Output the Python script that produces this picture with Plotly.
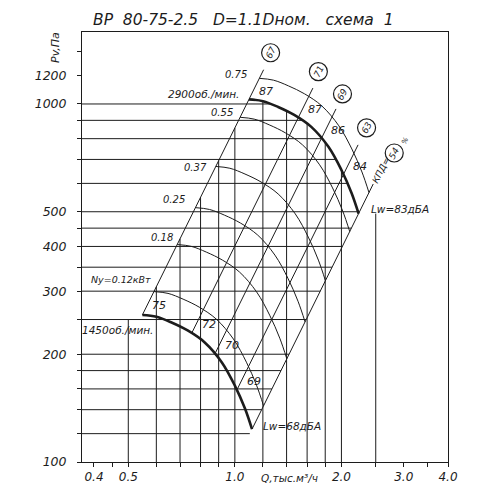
import numpy as np
import plotly.graph_objects as go

# ---------------- data ----------------
# fan characteristic at 2900 rpm (Q, thousand m3/h ; Pv, Pa)
Q_2900 = [1.096, 1.201, 1.325, 1.471, 1.644, 1.838, 2.0, 2.136, 2.236]
P_2900 = [1030, 1018, 981, 932, 863, 759, 654, 564, 494]

speed_labels = ["2900об./мин.", "1450об./мин."]
speed_ratio = [1.0, 0.5]

# thin characteristics for installed motor power Ny
power_labels = ["0.75", "0.55", "0.37", "0.25", "0.18", "Ny=0.12кВт"]
power_ratio = [1.07, 0.944, 0.806, 0.706, 0.627, 0.539]

# efficiency rays (P ~ Q^2) crossing the 2900 rpm curve at these Q
eta_labels = ["67", "71", "69", "63", "54"]
eta_Q_on_2900 = [1.096, 1.51, 1.755, 2.026, 2.236]
eta_ratio_top = 1.10
eta_ratio_bottom = 0.5

noise_2900 = ["87", "87", "86", "84"]
noise_1450 = ["75", "72", "70", "69"]
noise_end = ["Lw=83дБА", "Lw=68дБА"]

grid_Q = [0.5, 0.6, 0.7, 0.8, 0.9, 1.0, 1.2, 1.4, 1.6, 1.8, 2.0, 2.5]
grid_P = [1000, 900, 800, 700, 600, 500, 450, 400, 350, 300, 250, 200, 180, 160, 140, 120]

x_ticks = [0.4, 0.45, 0.5, 0.6, 0.7, 0.8, 0.9, 1.0, 1.2, 1.4, 1.6, 1.8, 2.0, 2.5, 3.0, 3.5, 4.0]
x_tick_text = ["0.4", "", "0.5", "", "", "", "", "1.0", "", "", "", "", "2.0", "", "3.0", "", "4.0"]
y_ticks = [100, 120, 140, 160, 180, 200, 250, 300, 350, 400, 450, 500, 600, 700, 800, 900, 1000, 1200, 1400]
y_tick_text = ["100", "", "", "", "", "200", "", "300", "", "400", "", "500", "", "", "", "", "1000", "1200", ""]

title_text = "ВР  80-75-2.5   D=1.1Dном.   схема  1"
x_title = "Q,тыс.м³/ч"
y_title = "Pv,Па"

# ---------------- helpers ----------------
X_RANGE = [np.log10(0.37), np.log10(4.0)]
Y_RANGE = [2.0, 3.201]
PX_X = 366 / (X_RANGE[1] - X_RANGE[0])
PX_Y = 430 / (Y_RANGE[1] - Y_RANGE[0])

Qb = np.array(Q_2900, float)
Pb = np.array(P_2900, float)
lq, lp = np.log10(Qb), np.log10(Pb)
K_first = Pb[0] / Qb[0] ** 2
K_last = Pb[-1] / Qb[-1] ** 2


def P_on_curve(q):
    return 10 ** np.interp(np.log10(q), lq, lp)


def Q_on_curve(p):
    return 10 ** np.interp(np.log10(p), lp[::-1], lq[::-1])


def top_of_vertical(q):
    if q < Qb[0] * 0.5:
        return max(p for p in grid_P if p <= Pb[0] * 0.25)
    if q <= Qb[0]:
        return K_first * q * q
    if q <= Qb[-1]:
        return P_on_curve(q)
    return Pb[-1]


def end_of_horizontal(p):
    if p >= Pb[-1]:
        return Q_on_curve(p)
    return np.sqrt(p / K_last)


def shift(q, p, dx, dy):
    """move a data point by a pixel offset (dx right, dy down)"""
    return q * 10 ** (dx / PX_X), p * 10 ** (-dy / PX_Y)


INK = "#1c1c1c"
FONT = "DejaVu Sans"
fig = go.Figure()


def add_line(xs, ys, width=1.0, shape="linear"):
    fig.add_trace(go.Scatter(x=list(xs), y=list(ys), mode="lines",
                             line=dict(color=INK, width=width, shape=shape),
                             hoverinfo="skip", showlegend=False))


# grid
for q in grid_Q:
    add_line([q, q], [100, top_of_vertical(q)], 1.0)
for p in grid_P:
    add_line([10 ** X_RANGE[0], end_of_horizontal(p)], [p, p], 1.0)

# thin power characteristics
for r in power_ratio:
    add_line(Qb * r, Pb * r * r, 1.0, "spline")

# efficiency rays
eta_P_on_2900 = [P_on_curve(q) for q in eta_Q_on_2900]
for q, p in zip(eta_Q_on_2900, eta_P_on_2900):
    add_line([q * eta_ratio_bottom, q * eta_ratio_top],
             [p * eta_ratio_bottom ** 2, p * eta_ratio_top ** 2], 1.0)

# thick speed characteristics
for r in speed_ratio:
    add_line(Qb * r, Pb * r * r, 2.6, "spline")

annotations = []


def ann(q, p, text, size=10.5, xanchor="center", xshift=0, yshift=0, angle=0, ref="data"):
    d = dict(text=text, showarrow=False, xanchor=xanchor, yanchor="middle",
             xshift=xshift, yshift=yshift, textangle=angle,
             font=dict(family=FONT, size=size, color=INK, style="italic"))
    if ref == "data":
        d.update(x=np.log10(q), y=np.log10(p), xref="x", yref="y")
    else:
        d.update(x=q, y=p, xref="paper", yref="paper")
    annotations.append(d)


# speed labels
ann(Qb[0], Pb[0], speed_labels[0], 10.5, "right", -8, 5)
ann(Qb[0] * 0.5, Pb[0] * 0.25, speed_labels[1], 10.5, "right", 13, -15)

# power labels
power_shift = [(-10, 4), (-5, 5), (-7, -1), (-8, 8), (-2, 7), (-1, 12)]
for lab, r, (dx, dy) in zip(power_labels, power_ratio, power_shift):
    ann(Qb[0] * r, Pb[0] * r * r, lab, 9.5 if "Ny" in lab else 10, "right", dx, dy)

# noise labels along the speed curves
for i, lab in enumerate(noise_2900):
    ann(eta_Q_on_2900[i], eta_P_on_2900[i], lab, 11, "center", 17, 8)
for i, lab in enumerate(noise_1450):
    ann(eta_Q_on_2900[i] * 0.5, eta_P_on_2900[i] * 0.25, lab, 11, "center", 17, 9)
ann(Qb[-1], Pb[-1], noise_end[0], 10.5, "left", 10, 5)
ann(Qb[-1] * 0.5, Pb[-1] * 0.25, noise_end[1], 10.5, "left", 9, 3)

# circled efficiency values at the top of the rays
circle_off = [(7, -17), (5.5, -16.5), (6.5, -15), (8.5, -17), (21, -31)]
cq, cp = [], []
for (q, p), (dx, dy) in zip(zip(eta_Q_on_2900, eta_P_on_2900), circle_off):
    a, b = shift(q * eta_ratio_top, p * eta_ratio_top ** 2, dx, dy)
    cq.append(a)
    cp.append(b)
fig.add_trace(go.Scatter(x=cq, y=cp, mode="markers", hoverinfo="skip", showlegend=False,
                         marker=dict(symbol="circle-open", size=18, color=INK,
                                     line=dict(width=1.2, color=INK))))
for a, b, lab in zip(cq, cp, eta_labels):
    ann(a, b, lab, 9, "center", 0, 0, -63)
tq, tp = eta_Q_on_2900[-1] * eta_ratio_top, eta_P_on_2900[-1] * eta_ratio_top ** 2
ann(tq, tp, "КПД=", 9, "center", 8, 14, -63)
ann(cq[-1], cp[-1], "%", 7, "center", 11, 12, -63)

# titles
ann(0.44, 1.028, title_text, 15.5, "center", ref="paper")
ann(-0.074, 0.965, y_title, 11, "center", 0, 0, -90, ref="paper")
annotations.append(dict(text=x_title, x=np.log10(1.424), y=0, xref="x", yref="paper",
                        yshift=-16, showarrow=False, xanchor="center", yanchor="middle",
                        font=dict(family=FONT, size=10.5, color=INK, style="italic")))

axis_common = dict(showgrid=False, zeroline=False, showline=True, mirror=True,
                   linecolor=INK, linewidth=1, ticks="outside", ticklen=4,
                   tickcolor=INK, tickwidth=1)

fig.update_layout(
    width=500, height=500,
    margin=dict(l=74, r=60, t=24, b=46),
    paper_bgcolor="white", plot_bgcolor="white",
    showlegend=False,
    annotations=annotations,
    xaxis=dict(type="log", range=X_RANGE, tickvals=x_ticks, ticktext=x_tick_text,
               tickfont=dict(family=FONT, size=12, color=INK, style="italic"), **axis_common),
    yaxis=dict(type="log", range=Y_RANGE, tickvals=y_ticks, ticktext=y_tick_text,
               ticklabelstandoff=8,
               tickfont=dict(family=FONT, size=12.5, color=INK, style="italic"), **axis_common),
)

fig.write_html("out.html")
